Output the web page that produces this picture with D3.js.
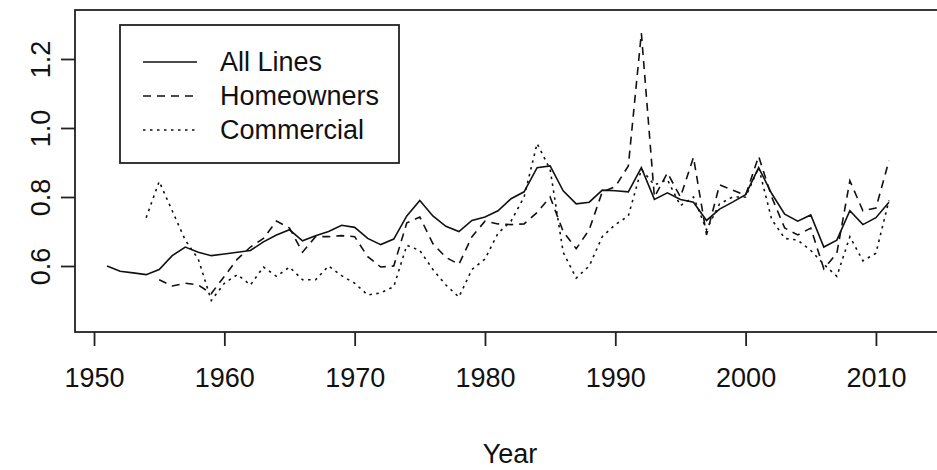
<!DOCTYPE html>
<html>
<head>
<meta charset="utf-8">
<script src="https://cdn.jsdelivr.net/npm/d3@7"></script>
<style>
  html, body { margin: 0; padding: 0; background: #fff; }
  svg { display: block; }
  text { font-family: "Liberation Sans", Arial, sans-serif; fill: #111; }
</style>
</head>
<body>
<svg id="chart" width="937" height="470"></svg>
<script>
// Loss ratios by line of business, by year
const allLinesStart = 1951;
const allLines = [
  0.600, 0.585, 0.580, 0.575, 0.590, 0.630, 0.655, 0.640, 0.630, 0.635,
  0.640, 0.645, 0.670, 0.690, 0.705, 0.673, 0.688, 0.700, 0.718, 0.712,
  0.680, 0.662, 0.678, 0.745, 0.790, 0.745, 0.715, 0.700, 0.732, 0.742,
  0.760, 0.795, 0.815, 0.885, 0.890, 0.818, 0.780, 0.785, 0.820, 0.818,
  0.815, 0.885, 0.793, 0.812, 0.793, 0.785, 0.732, 0.765, 0.785, 0.807,
  0.885, 0.810, 0.750, 0.730, 0.748, 0.655, 0.675, 0.760, 0.720, 0.740,
  0.785
];

const homeownersStart = 1955;
const homeowners = [
  0.560, 0.542, 0.550, 0.545, 0.520,
  0.570, 0.620, 0.655, 0.680, 0.730, 0.710, 0.640, 0.685, 0.685, 0.688,
  0.685, 0.627, 0.597, 0.600, 0.725, 0.742, 0.665, 0.625, 0.605, 0.685,
  0.730, 0.722, 0.720, 0.722, 0.755, 0.800, 0.700, 0.650, 0.705, 0.815,
  0.830, 0.890, 1.275, 0.800, 0.870, 0.800, 0.915, 0.690, 0.835, 0.820,
  0.805, 0.918, 0.800, 0.710, 0.690, 0.710, 0.592, 0.637, 0.847, 0.760,
  0.768, 0.905
];

const commercialStart = 1954;
const commercial = [
  0.740, 0.845, 0.760, 0.675, 0.620, 0.500,
  0.550, 0.575, 0.545, 0.597, 0.570, 0.597, 0.560, 0.560, 0.600, 0.572,
  0.550, 0.516, 0.522, 0.540, 0.660, 0.645, 0.590, 0.545, 0.510, 0.590,
  0.620, 0.695, 0.730, 0.800, 0.955, 0.880, 0.640, 0.565, 0.600, 0.685,
  0.720, 0.745, 0.880, 0.835, 0.850, 0.775, 0.800, 0.705, 0.780, 0.800,
  0.800, 0.885, 0.735, 0.680, 0.675, 0.645, 0.605, 0.570, 0.685, 0.615,
  0.637, 0.790
];

const seriesNames = ["All Lines", "Homeowners", "Commercial"];
const xTicks = [1950, 1960, 1970, 1980, 1990, 2000, 2010];
const yTicks = [0.6, 0.8, 1.0, 1.2];
const xTitle = "Year";

const dashes = [null, "8,6", "2.5,4.5"];
const seriesData = [
  allLines.map((v, i) => ({ year: allLinesStart + i, value: v })),
  homeowners.map((v, i) => ({ year: homeownersStart + i, value: v })),
  commercial.map((v, i) => ({ year: commercialStart + i, value: v }))
];

const svg = d3.select("#chart");
const plot = { left: 75, top: 10, right: 945, bottom: 332 };

const x = d3.scaleLinear().domain([1948.54, 2015.3]).range([plot.left, plot.right]);
const y = d3.scaleLinear().domain([0.4087, 1.342]).range([plot.bottom, plot.top]);

const fontSize = 27;
const stroke = "#111";

// data lines
const line = d3.line().x(d => x(d.year)).y(d => y(d.value));
seriesData.forEach((data, i) => {
  svg.append("path")
    .datum(data)
    .attr("d", line)
    .attr("fill", "none")
    .attr("stroke", stroke)
    .attr("stroke-width", 1.6)
    .attr("stroke-dasharray", dashes[i]);
});

// plot frame
svg.append("rect")
  .attr("x", plot.left).attr("y", plot.top)
  .attr("width", plot.right - plot.left).attr("height", plot.bottom - plot.top)
  .attr("fill", "none").attr("stroke", "#222").attr("stroke-width", 1.8);

// bottom axis
const xAxis = d3.axisBottom(x).tickValues(xTicks).tickFormat(d3.format("d"))
  .tickSize(14).tickPadding(22);
const gx = svg.append("g").attr("transform", `translate(0,${plot.bottom})`).call(xAxis);
gx.select(".domain").remove();
gx.selectAll(".tick line").attr("stroke", "#222").attr("stroke-width", 1.8);
gx.selectAll(".tick text")
  .style("font-family", '"Liberation Sans", Arial, sans-serif')
  .style("font-size", fontSize + "px").attr("fill", "#111");

// left axis
const yAxis = d3.axisLeft(y).tickValues(yTicks).tickFormat(d3.format(".1f"))
  .tickSize(14).tickPadding(10);
const gy = svg.append("g").attr("transform", `translate(${plot.left},0)`).call(yAxis);
gy.select(".domain").remove();
gy.selectAll(".tick line").attr("stroke", "#222").attr("stroke-width", 1.8);
gy.selectAll(".tick text")
  .attr("x", null).attr("dy", null)
  .attr("text-anchor", "middle")
  .attr("transform", "translate(-25,0) rotate(-90)")
  .style("font-family", '"Liberation Sans", Arial, sans-serif')
  .style("font-size", fontSize + "px").attr("fill", "#111");

// axis title
svg.append("text")
  .attr("x", (plot.left + plot.right) / 2)
  .attr("y", 463)
  .attr("text-anchor", "middle")
  .style("font-size", fontSize + "px")
  .text(xTitle);

// legend
const legend = svg.append("g");
legend.append("rect")
  .attr("x", 120).attr("y", 25).attr("width", 279).attr("height", 138)
  .attr("fill", "#fff").attr("stroke", "#222").attr("stroke-width", 1.8);
seriesNames.forEach((name, i) => {
  const cy = 62 + i * 34;
  legend.append("line")
    .attr("x1", 143).attr("x2", 197).attr("y1", cy).attr("y2", cy)
    .attr("stroke", stroke).attr("stroke-width", 1.6)
    .attr("stroke-dasharray", dashes[i]);
  legend.append("text")
    .attr("x", 220).attr("y", cy)
    .attr("dy", "0.35em")
    .style("font-size", fontSize + "px")
    .text(name);
});
</script>
</body>
</html>
